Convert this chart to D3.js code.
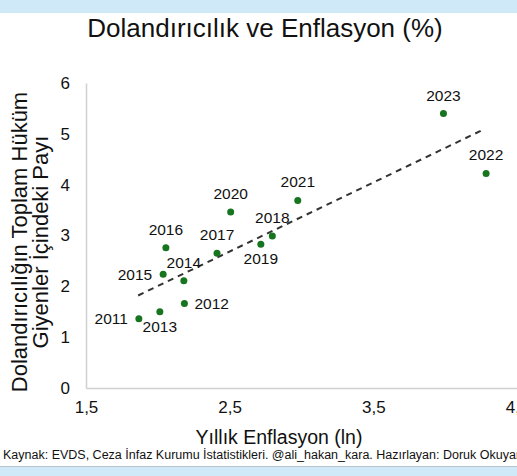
<!DOCTYPE html>
<html><head><meta charset="utf-8">
<script src="https://cdn.jsdelivr.net/npm/d3@7"></script>
<style>
html,body{margin:0;padding:0;background:#fff;overflow:hidden}
svg{display:block;font-family:"Liberation Sans",Arial,Helvetica,sans-serif}
</style></head><body>
<script>
const years = ["2011","2012","2013","2014","2015","2016","2017","2018","2019","2020","2021","2022","2023"];
const inflation = [1.868,2.185,2.014,2.181,2.037,2.056,2.412,2.797,2.717,2.507,2.974,4.285,3.988];
const fraudShare = [1.36,1.66,1.50,2.11,2.24,2.76,2.65,2.99,2.83,3.46,3.69,4.22,5.40];
const trendX = [1.863,4.271];
const trendY = [1.82,5.09];
const xTicks = [1.5,2.5,3.5,4.5];
const yTicks = [0,1,2,3,4,5,6];

const W=517,H=476;
const svg=d3.select("body").append("svg").attr("width",W).attr("height",H);
svg.append("rect").attr("width",W).attr("height",13).attr("fill","#cfe9f8");
svg.append("rect").attr("y",467).attr("width",W).attr("height",9).attr("fill","#cfe9f8");
svg.append("line").attr("x1",0).attr("x2",W).attr("y1",466.5).attr("y2",466.5).attr("stroke","#b8c4cc").attr("stroke-width",1);

const x=d3.scaleLinear().domain([1.5,4.5]).range([86,517]);
const y=d3.scaleLinear().domain([0,6]).range([388,83]);

svg.append("text").attr("x",265).attr("y",37).attr("text-anchor","middle")
  .attr("font-size",26).attr("fill","#111").text("Dolandırıcılık ve Enflasyon (%)");

// axes
const xAxis=svg.append("g").attr("transform","translate(0,388)")
  .call(d3.axisBottom(x).tickValues(xTicks).tickSize(0).tickPadding(13).tickFormat(d=>d3.format(".1f")(d).replace(".",",")));
xAxis.select(".domain").attr("stroke","#d0d0d0").attr("stroke-width",1.5);
xAxis.selectAll("text").attr("font-size",17).attr("fill","#111").attr("font-family","Liberation Sans, Arial, sans-serif");

const yAxis=svg.append("g").attr("transform","translate(86,0)")
  .call(d3.axisLeft(y).tickValues(yTicks).tickSize(0).tickPadding(16).tickFormat(d3.format("d")));
yAxis.select(".domain").attr("stroke","#d0d0d0").attr("stroke-width",1.5);
yAxis.selectAll("text").attr("font-size",17).attr("fill","#111").attr("font-family","Liberation Sans, Arial, sans-serif");

// axis titles
svg.append("text").attr("x",279).attr("y",444).attr("text-anchor","middle")
  .attr("font-size",19.5).attr("fill","#111").text("Yıllık Enflasyon (ln)");
const yt=svg.append("text").attr("transform","translate(27,242) rotate(-90)")
  .attr("text-anchor","middle").attr("font-size",22).attr("fill","#111");
yt.append("tspan").attr("x",0).attr("y",0).text("Dolandırıcılığın Toplam Hüküm");
yt.append("tspan").attr("x",0).attr("y",20.5).text("Giyenler İçindeki Payı");

// trend
svg.append("line").attr("x1",x(trendX[0])).attr("y1",y(trendY[0])).attr("x2",x(trendX[1])).attr("y2",y(trendY[1]))
  .attr("stroke","#333").attr("stroke-width",2).attr("stroke-dasharray","6,5");

// points
svg.selectAll("circle.pt").data(years).enter().append("circle").attr("class","pt")
  .attr("cx",(d,i)=>x(inflation[i])).attr("cy",(d,i)=>y(fraudShare[i])).attr("r",3.5).attr("fill","#17741f");

const place={"2011":"left","2012":"right","2013":"below","2015":"left","2019":"below"};
svg.selectAll("text.lbl").data(years).enter().append("text").attr("class","lbl")
  .attr("font-size",15.5).attr("fill","#111")
  .each(function(d,i){
    const px=x(inflation[i]),py=y(fraudShare[i]);const p=place[d]||"above";
    const t=d3.select(this).text(d);
    if(p==="left"){t.attr("x",px-11).attr("y",py+5.5).attr("text-anchor","end");}
    else if(p==="right"){t.attr("x",px+10).attr("y",py+5.5).attr("text-anchor","start");}
    else if(p==="below"){t.attr("x",px).attr("y",py+20).attr("text-anchor","middle");}
    else {t.attr("x",px).attr("y",py-13).attr("text-anchor","middle");}
  });

svg.append("text").attr("x",3).attr("y",459).attr("font-size",12.5).attr("fill","#111")
  .text("Kaynak: EVDS, Ceza İnfaz Kurumu İstatistikleri. @ali_hakan_kara. Hazırlayan: Doruk Okuyan");
</script>
</body></html>
